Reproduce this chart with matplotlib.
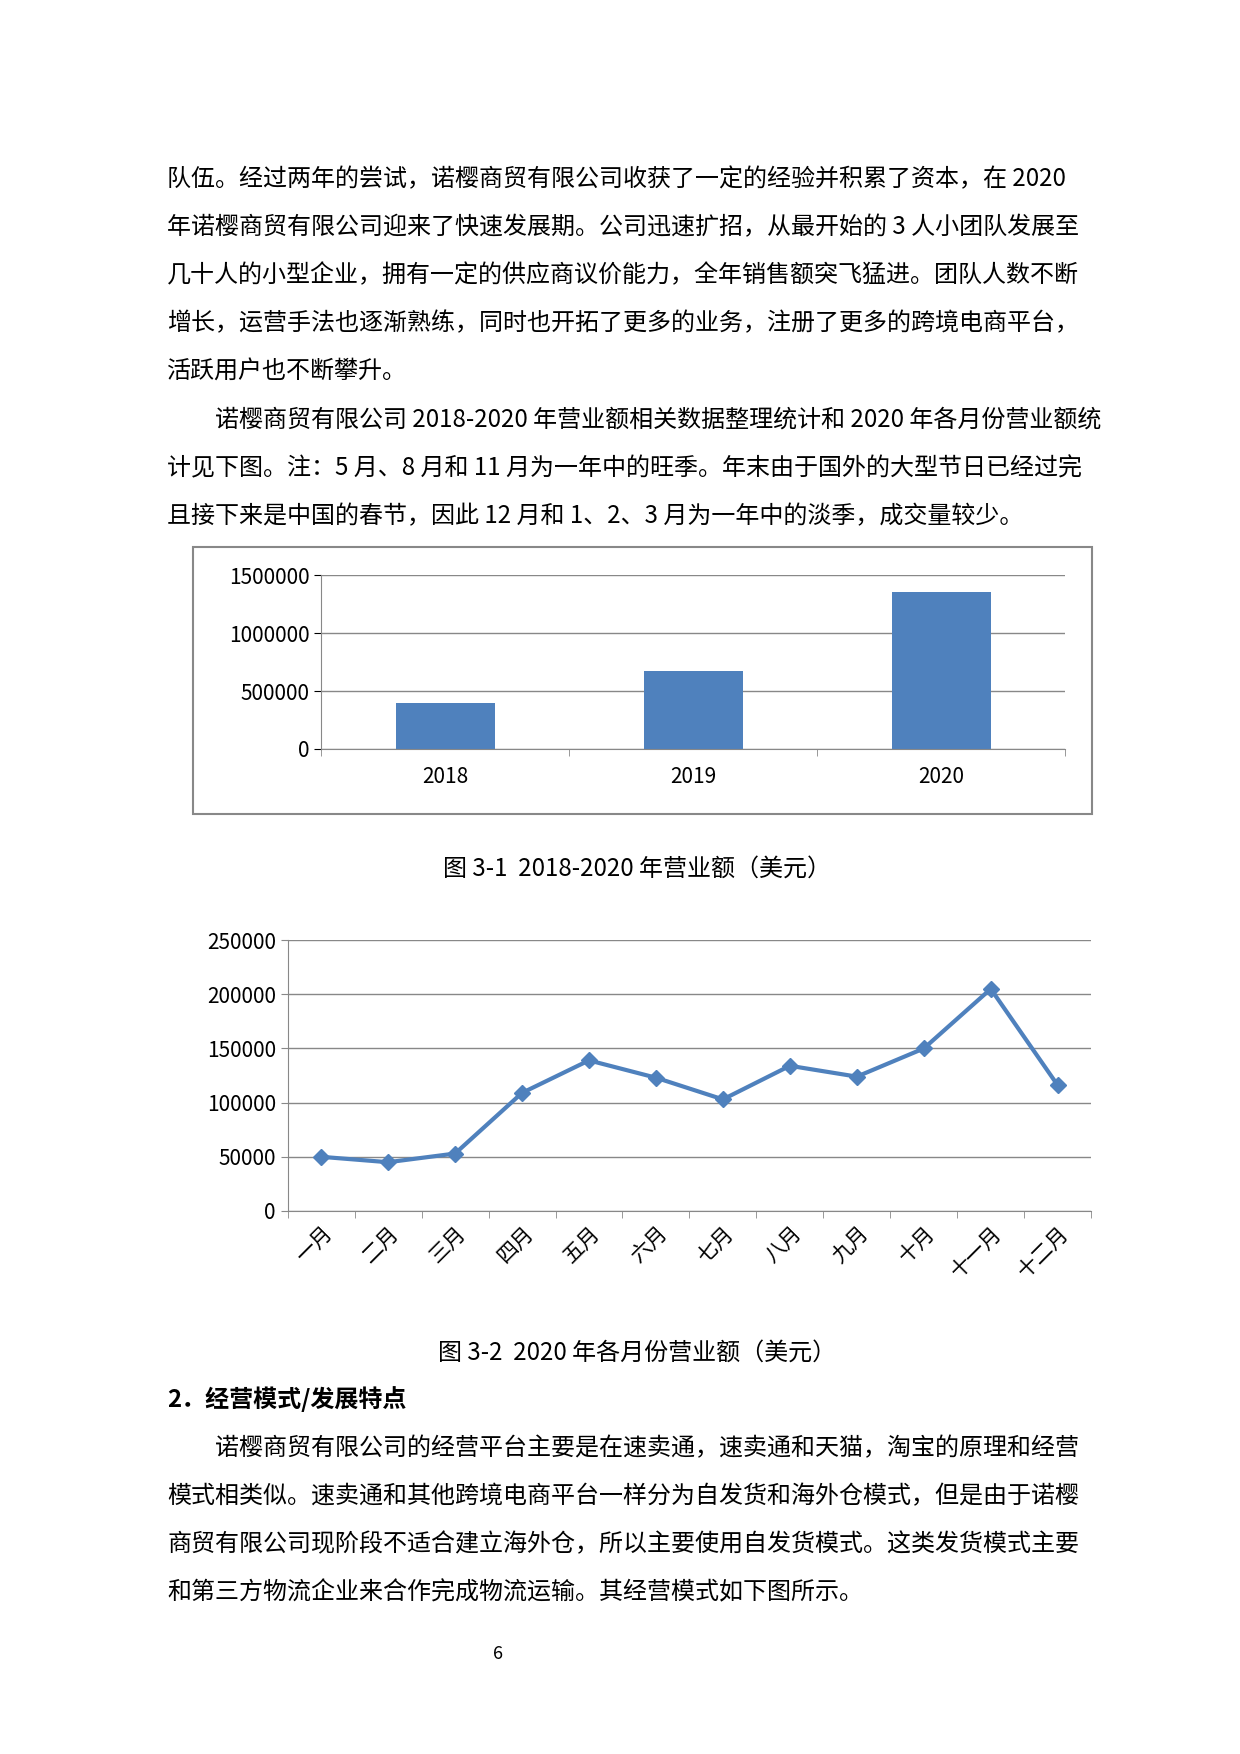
import matplotlib
matplotlib.use("Agg")
import matplotlib.pyplot as plt
from matplotlib.patches import Rectangle

plt.rcParams['font.family'] = ['Noto Sans CJK SC', 'DejaVu Sans']

years = ['2018', '2019', '2020']
revenue = [400000, 670000, 1355000]
months = ['一月', '二月', '三月', '四月', '五月', '六月', '七月', '八月', '九月', '十月', '十一月', '十二月']
monthly = [50000, 45000, 53000, 109000, 139000, 123000, 103000, 134000, 124000, 150000, 205000, 116000]

para1 = ["队伍。经过两年的尝试，诺樱商贸有限公司收获了一定的经验并积累了资本，在 2020",
         "年诺樱商贸有限公司迎来了快速发展期。公司迅速扩招，从最开始的 3 人小团队发展至",
         "几十人的小型企业，拥有一定的供应商议价能力，全年销售额突飞猛进。团队人数不断",
         "增长，运营手法也逐渐熟练，同时也开拓了更多的业务，注册了更多的跨境电商平台，",
         "活跃用户也不断攀升。",
         "　　诺樱商贸有限公司 2018-2020 年营业额相关数据整理统计和 2020 年各月份营业额统",
         "计见下图。注：5 月、8 月和 11 月为一年中的旺季。年末由于国外的大型节日已经过完",
         "且接下来是中国的春节，因此 12 月和 1、2、3 月为一年中的淡季，成交量较少。"]
para2 = ["　　诺樱商贸有限公司的经营平台主要是在速卖通，速卖通和天猫，淘宝的原理和经营",
         "模式相类似。速卖通和其他跨境电商平台一样分为自发货和海外仓模式，但是由于诺樱",
         "商贸有限公司现阶段不适合建立海外仓，所以主要使用自发货模式。这类发货模式主要",
         "和第三方物流企业来合作完成物流运输。其经营模式如下图所示。"]

fig = plt.figure(figsize=(12.4, 17.54), dpi=100)
blue = '#4F81BD'
fs = 17.3

for i, s in enumerate(para1):
    fig.text(0.135, 0.898 - i * 0.0275, s, fontsize=fs, va='center', ha='left')
for i, s in enumerate(para2):
    fig.text(0.135, 0.1745 - i * 0.0275, s, fontsize=fs, va='center', ha='left')
fig.text(0.135, 0.2025, "2．经营模式/发展特点", fontsize=fs, va='center', ha='left', weight='bold')
fig.text(0.514, 0.505, "图 3-1  2018-2020 年营业额（美元）", fontsize=fs, va='center', ha='center')
fig.text(0.514, 0.229, "图 3-2  2020 年各月份营业额（美元）", fontsize=fs, va='center', ha='center')
fig.text(0.402, 0.057, "6", fontsize=13, va='center', ha='center')

fig.patches.append(Rectangle((0.156, 0.536), 0.725, 0.152, transform=fig.transFigure,
                             fill=False, edgecolor='#888888', linewidth=1.5))

ax1 = fig.add_axes([0.259, 0.573, 0.600, 0.099])
ax1.bar(range(len(years)), revenue, width=0.4, color=blue)
ax1.set_xlim(-0.5, 2.5)
ax1.set_ylim(0, 1500000)
ax1.set_yticks([0, 500000, 1000000, 1500000])
ax1.set_yticklabels(['0', '500000', '1000000', '1500000'])
ax1.set_xticks(range(len(years)))
ax1.set_xticklabels(years)
ax1.grid(axis='y', color='#888888', linewidth=1)
ax1.set_axisbelow(True)
for sp in ['top', 'right']:
    ax1.spines[sp].set_visible(False)
ax1.spines['left'].set_color('#888888')
ax1.spines['bottom'].set_color('#888888')
ax1.tick_params(labelsize=15, colors='black', length=5)
ax1.tick_params(axis='x', length=0, pad=12)
ax1.set_xticks([-0.5, 0.5, 1.5, 2.5], minor=True)
ax1.tick_params(axis='x', which='minor', length=5, color='#888888')

ax2 = fig.add_axes([0.232, 0.3096, 0.648, 0.1544])
x = list(range(len(months)))
ax2.plot(x, monthly, color=blue, linewidth=3, marker='D', markersize=8)
ax2.set_xlim(-0.5, 11.5)
ax2.set_ylim(0, 250000)
ax2.set_yticks(range(0, 250001, 50000))
ax2.set_xticks(x)
ax2.set_xticklabels(months, rotation=45, ha='right', rotation_mode='anchor')
ax2.grid(axis='y', color='#888888', linewidth=1)
ax2.set_axisbelow(True)
for sp in ['top', 'right']:
    ax2.spines[sp].set_visible(False)
ax2.spines['left'].set_color('#888888')
ax2.spines['bottom'].set_color('#888888')
ax2.tick_params(labelsize=15, length=5, color='#888888')
ax2.tick_params(axis='x', length=0, pad=8)
ax2.set_xticks([i - 0.5 for i in range(13)], minor=True)
ax2.tick_params(axis='x', which='minor', length=5, color='#888888')

fig.savefig('out.png', dpi=100, facecolor='white')
